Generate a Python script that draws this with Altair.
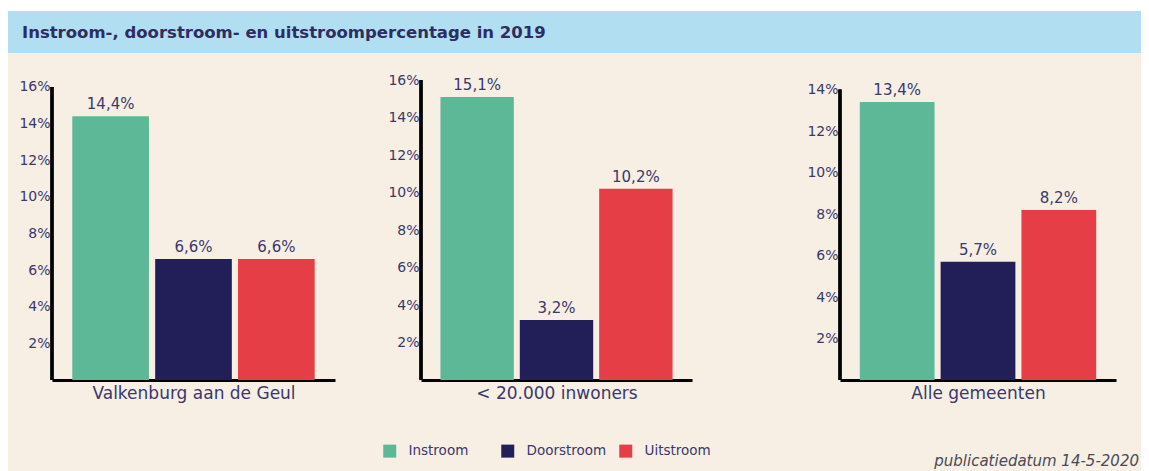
import altair as alt
import pandas as pd

groups = ["Valkenburg aan de Geul", "< 20.000 inwoners", "Alle gemeenten"]
series = ["Instroom", "Doorstroom", "Uitstroom"]
instroom = [14.4, 15.1, 13.4]
doorstroom = [6.6, 3.2, 5.7]
uitstroom = [6.6, 10.2, 8.2]
axis_max = [16, 16, 14]
colors = ["#5cb897", "#221e58", "#e63e46"]
title_text = "Instroom-, doorstroom- en uitstroompercentage in 2019"
footer_text = "publicatiedatum 14-5-2020"

BG = "#f7efe3"
HEADER = "#b1def0"
INK = "#3a386c"
FONT = "DejaVu Sans"

rows = []
for gi, g in enumerate(groups):
    for s, vals in zip(series, [instroom, doorstroom, uitstroom]):
        rows.append({"group": g, "series": s, "value": vals[gi]})
df = pd.DataFrame(rows)

widths = [283, 271, 276]
H = 300
dom_max = [16.38, 16.0, 14.46]
extents = [44, 65.5, 127.5]


def panel(i):
    d = df[df.group == groups[i]]
    ticks = list(range(2, axis_max[i] + 1, 2))
    yscale = alt.Scale(domain=[0, dom_max[i]], nice=False, zero=True)
    base = alt.Chart(d).transform_calculate(
        label="replace(format(datum.value, '.1f'), '.', ',') + '%'"
    ).encode(
        x=alt.X(
            "series:N",
            sort=series,
            scale=alt.Scale(paddingInner=0.075, paddingOuter=0.245),
            axis=alt.Axis(
                title=groups[i], labels=False, ticks=False, domain=True,
                domainColor="black", domainWidth=3, titleFontSize=17,
                titleFontWeight="normal", titleColor=INK, titlePadding=5,
                titleFont=FONT,
            ),
        )
    )
    bars = base.mark_bar().encode(
        y=alt.Y(
            "value:Q", scale=yscale,
            axis=alt.Axis(
                values=ticks, labelExpr="datum.value + '%'", domain=False,
                ticks=False, grid=False, title=None, labelFontSize=14,
                labelColor=INK, labelPadding=2, minExtent=extents[i],
                maxExtent=extents[i], labelFont=FONT,
            ),
        ),
        color=alt.Color(
            "series:N",
            scale=alt.Scale(domain=series, range=colors),
            legend=alt.Legend(
                title=None, orient="none", legendX=331, legendY=436,
                direction="horizontal", columns=3, symbolType="square",
                symbolSize=169, symbolStrokeWidth=0, labelFontSize=13.5,
                labelColor=INK, labelOffset=12, columnPadding=12,
                gridAlign="all", padding=0, labelFont=FONT,
            ),
        ),
    )
    labels = base.mark_text(
        baseline="bottom", dy=-4, fontSize=15, color=INK, font=FONT
    ).encode(y=alt.Y("value:Q", scale=yscale), text="label:N")
    rule = base.mark_rule(color="black", strokeWidth=3).encode(
        x=alt.value(0), y=alt.datum(axis_max[i]), y2=alt.datum(0)
    )
    return alt.layer(bars, labels, rule).properties(width=widths[i], height=H)


hdf = pd.DataFrame({"t": [title_text], "f": [footer_text]})
hbase = alt.Chart(hdf)
strip = hbase.mark_rect(color="white").encode(
    x=alt.value(-44), x2=alt.value(1089), y=alt.value(0), y2=alt.value(3)
)
band = hbase.mark_rect(color=HEADER).encode(
    x=alt.value(-44), x2=alt.value(1089), y=alt.value(3), y2=alt.value(45)
)
bottom_fill = hbase.mark_rect(color=BG).encode(
    x=alt.value(-44), x2=alt.value(1089), y=alt.value(440), y2=alt.value(466)
)
htext = hbase.mark_text(
    align="left", baseline="middle", fontSize=16.5, fontWeight="bold",
    color="#2e2c60", font=FONT,
).encode(x=alt.value(-30), y=alt.value(25), text="t:N")
ftext = hbase.mark_text(
    align="right", baseline="middle", fontSize=15, fontStyle="italic",
    color="#4a4a5a", font=FONT,
).encode(x=alt.value(1087), y=alt.value(453), text="f:N")
header = alt.layer(bottom_fill, band, strip, htext, ftext).properties(width=1089, height=45)

row = alt.hconcat(panel(0), panel(1), panel(2), spacing=20)

chart = alt.vconcat(header, row, spacing=27, bounds="flush").properties(
    background=BG,
    padding={"left": 0, "top": 0, "right": 0, "bottom": 0},
).configure(font=FONT, view=alt.ViewConfig(stroke=None))

chart.save("out.html", embed_options={"renderer": "svg", "actions": False})
